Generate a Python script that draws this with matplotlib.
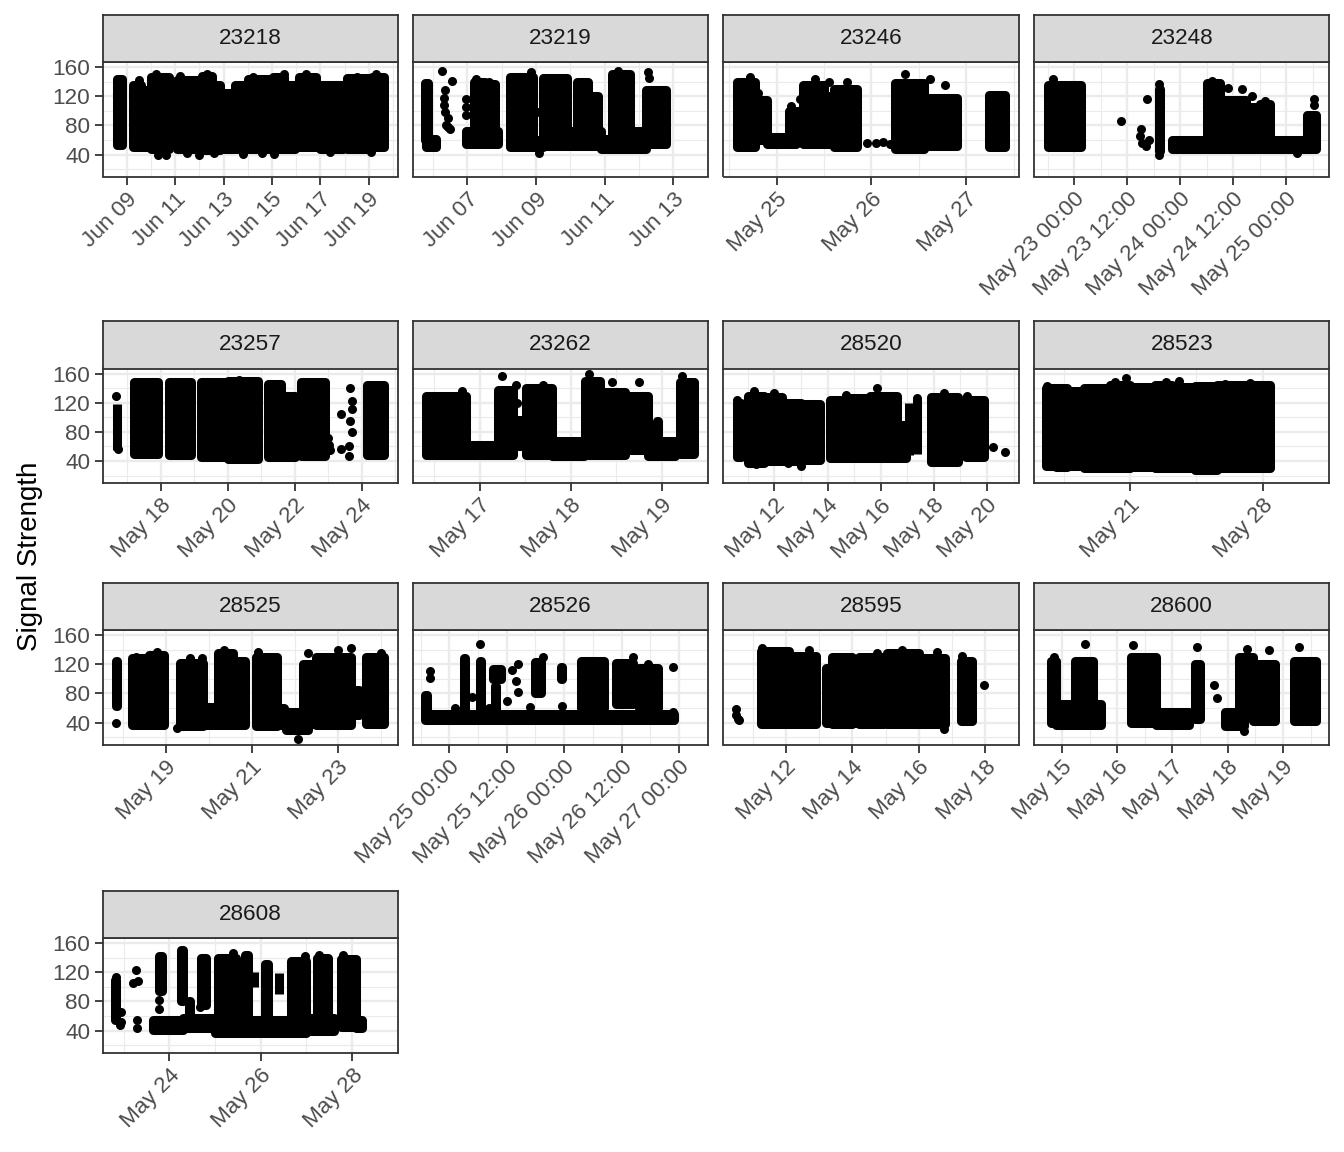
import numpy as np
import matplotlib
matplotlib.use('Agg')
import matplotlib.pyplot as plt
import matplotlib.dates as mdates

plt.rcParams['font.family'] = ['Liberation Sans', 'DejaVu Sans']

# dense bursts of detections: (start day, end day, low signal, high signal)
# day = day of month with fraction; separate lone detections: (day, signal)
blocks_23218 = [(8.58, 8.8, 53, 144), (9.26, 9.6, 50, 136), (9.6, 10.0, 50, 128),
                (10.0, 10.75, 47, 146), (11.08, 12.0, 47, 143), (12.1, 12.5, 46, 148),
                (12.5, 12.85, 46, 136), (12.85, 13.4, 47, 124), (13.45, 14.0, 47, 135),
                (14.0, 14.9, 47, 144), (15.05, 15.5, 47, 147), (15.5, 15.95, 47, 135),
                (16.1, 16.8, 50, 147), (17.0, 17.95, 47, 136), (18.1, 19.0, 47, 145),
                (19.12, 19.64, 50, 147)]
dots_23218 = [(10.3, 40), (10.6, 39), (11.5, 42), (12.0, 40), (12.6, 42), (13.8, 41),
              (14.6, 42), (15.1, 41), (17.4, 43), (19.1, 44), (9.5, 142), (10.2, 150),
              (11.2, 148), (12.3, 151), (14.2, 147), (15.5, 150), (16.4, 151), (18.5, 146),
              (19.3, 150), (12.9, 100), (17.0, 100)]
ticks_23218 = [9, 11, 13, 15, 17, 19]

blocks_23219 = [(5.76, 5.86, 60, 138), (5.8, 6.1, 50, 62), (6.95, 7.9, 55, 72),
                (7.2, 7.5, 72, 140), (7.55, 7.8, 72, 137), (8.25, 8.9, 50, 146),
                (8.9, 9.2, 50, 60), (9.2, 9.9, 52, 145), (9.9, 10.9, 52, 72),
                (10.2, 10.5, 72, 139), (10.65, 10.8, 72, 120), (10.9, 11.2, 47, 62),
                (11.2, 11.75, 47, 150), (11.75, 12.2, 47, 72), (12.2, 12.8, 55, 128)]
dots_23219 = [(6.27, 155), (6.56, 141), (6.35, 128), (6.33, 118), (6.33, 108), (6.35, 98),
              (6.45, 90), (6.45, 78), (6.5, 75), (6.38, 80), (6.96, 116), (6.96, 105),
              (6.96, 95), (7.26, 144), (7.62, 139), (8.85, 153), (9.1, 98), (9.1, 42),
              (11.4, 155), (12.25, 153), (12.3, 145)]
ticks_23219 = [7, 9, 11, 13]

blocks_23246 = [(24.58, 24.77, 50, 140), (24.77, 24.9, 60, 115), (24.9, 25.2, 54, 64),
                (25.13, 25.28, 60, 100), (25.28, 25.5, 54, 135), (25.5, 25.6, 54, 120),
                (25.6, 25.85, 50, 130), (26.25, 26.55, 48, 138), (26.55, 26.9, 52, 118),
                (27.24, 27.41, 50, 122)]
dots_23246 = [(24.72, 146), (24.8, 125), (25.15, 107), (25.25, 116), (25.4, 144),
              (25.55, 139), (25.74, 139), (25.95, 56), (26.05, 56), (26.12, 57),
              (26.2, 55), (26.35, 151), (26.62, 144), (26.78, 135)]
ticks_23246 = [25, 26, 27]

blocks_23248 = [(22.75, 22.93, 50, 135), (22.95, 23.06, 50, 136), (23.8, 23.81, 45, 130),
                (23.92, 25.28, 47, 60), (24.25, 24.38, 60, 138), (24.38, 24.62, 62, 115),
                (24.62, 24.75, 62, 105), (24.75, 24.85, 62, 110), (25.2, 25.28, 60, 95)]
dots_23248 = [(22.8, 144), (23.44, 86), (23.63, 75), (23.62, 65), (23.64, 56), (23.68, 52),
              (23.69, 116), (23.71, 60), (23.8, 39), (23.8, 137), (24.3, 141), (24.45, 132),
              (24.58, 130), (24.68, 120), (24.8, 113), (25.26, 116), (25.26, 108), (25.1, 42)]
ticks_23248 = [23, 23.5, 24, 24.5, 25]

blocks_23257 = [(16.68, 16.69, 55, 118), (17.2, 17.9, 50, 148), (18.25, 18.9, 48, 148),
                (19.2, 20.0, 45, 148), (20.0, 20.9, 43, 150), (21.2, 21.6, 46, 146),
                (21.6, 22.0, 46, 130), (22.2, 22.9, 47, 148), (24.17, 24.68, 48, 144)]
dots_23257 = [(16.66, 130), (16.72, 57), (20.35, 152), (23.0, 72), (23.02, 62), (23.05, 55),
              (23.38, 105), (23.65, 140), (23.7, 122), (23.72, 112), (23.65, 95), (23.7, 80),
              (23.62, 60), (23.62, 47), (23.38, 56)]
ticks_23257 = [18, 20, 22, 24]

blocks_23262 = [(16.41, 16.85, 48, 129), (16.85, 17.2, 48, 62), (17.2, 17.37, 48, 138),
                (17.37, 17.5, 60, 96), (17.51, 17.8, 48, 140), (17.8, 18.15, 47, 68),
                (18.16, 18.32, 48, 150), (18.32, 18.6, 48, 135), (18.6, 18.85, 55, 130),
                (18.85, 19.15, 47, 68), (18.95, 18.96, 68, 95), (19.2, 19.36, 50, 148)]
dots_23262 = [(16.8, 136), (17.25, 157), (17.4, 145), (17.41, 120), (17.7, 145), (18.2, 160),
              (18.45, 148), (18.75, 148), (19.22, 157), (19.35, 148)]
ticks_23262 = [17, 18, 19]

blocks_28520 = [(10.59, 10.75, 46, 120), (11.0, 11.6, 38, 130), (11.6, 12.3, 40, 128),
                (12.3, 13.0, 40, 120), (13.0, 13.7, 42, 118), (14.1, 14.8, 44, 124),
                (14.8, 15.6, 44, 126), (15.6, 16.6, 44, 130), (16.7, 16.95, 44, 90),
                (17.05, 17.06, 48, 120), (17.35, 17.36, 50, 125), (17.9, 18.9, 39, 128),
                (19.2, 19.9, 46, 124)]
dots_28520 = [(10.6, 124), (11.25, 136), (12.0, 134), (14.7, 131), (15.85, 140), (17.35, 127),
              (18.4, 134), (19.25, 129), (20.24, 59), (20.68, 53), (11.3, 36), (13.0, 33),
              (12.5, 38)]
ticks_28520 = [12, 14, 16, 18, 20]

blocks_28523 = [(16.55, 17.0, 33, 140), (17.1, 17.7, 32, 140), (17.8, 18.5, 33, 136),
                (18.6, 19.9, 30, 140), (19.95, 21.0, 30, 145), (21.05, 22.3, 32, 142),
                (22.3, 23.2, 30, 145), (23.2, 24.4, 30, 142), (24.4, 25.6, 28, 143),
                (25.6, 28.4, 30, 145)]
dots_28523 = [(16.65, 143), (20.2, 148), (20.8, 154), (22.9, 148), (23.6, 150), (26.0, 146),
              (27.3, 147)]
ticks_28523 = [21, 28]

blocks_28525 = [(17.84, 17.85, 63, 125), (18.2, 18.6, 36, 128), (18.6, 18.95, 36, 133),
                (19.33, 19.87, 35, 122), (19.87, 20.2, 36, 62), (20.2, 20.57, 36, 135),
                (20.57, 20.85, 36, 125), (21.1, 21.58, 35, 130), (21.6, 21.75, 36, 60),
                (21.8, 22.3, 30, 55), (22.2, 22.5, 38, 120), (22.5, 23.3, 36, 130),
                (23.35, 23.5, 50, 85), (23.65, 24.08, 38, 130)]
dots_28525 = [(17.84, 40), (18.3, 130), (18.8, 137), (19.25, 33), (19.55, 128), (19.85, 128),
              (20.35, 139), (21.15, 137), (22.08, 17), (22.3, 135), (23.0, 139), (23.3, 142),
              (24.0, 135)]
ticks_28525 = [19, 21, 23]

blocks_28526 = [(24.79, 26.96, 44, 52), (24.79, 24.81, 52, 78), (25.13, 25.14, 52, 128),
                (25.27, 25.28, 52, 125), (25.38, 25.45, 100, 114), (25.4, 25.41, 52, 90),
                (25.75, 25.8, 80, 123), (25.97, 25.98, 100, 116), (26.15, 26.35, 60, 125),
                (26.45, 26.6, 65, 122), (26.65, 26.82, 60, 115)]
dots_28526 = [(24.83, 111), (24.83, 101), (25.27, 148), (25.55, 112), (25.58, 97), (25.6, 82),
              (25.6, 121), (25.82, 130), (25.98, 63), (26.22, 125), (26.6, 130), (26.73, 121),
              (26.95, 116), (26.95, 54), (26.95, 44), (25.05, 60), (25.2, 75), (25.35, 60),
              (25.5, 70), (25.7, 62)]
ticks_28526 = [25, 25.5, 26, 26.5, 27]

blocks_28595 = [(11.25, 12.1, 38, 138), (12.1, 12.9, 38, 132), (13.2, 13.4, 40, 115),
                (13.4, 14.0, 38, 130), (14.0, 14.2, 40, 75), (14.2, 14.95, 38, 130),
                (15.05, 16.0, 38, 135), (16.0, 16.8, 38, 128), (17.27, 17.6, 42, 125)]
dots_28595 = [(10.5, 58), (10.5, 50), (10.55, 45), (10.6, 43), (11.3, 142), (12.7, 139),
              (14.1, 120), (14.1, 100), (14.75, 135), (15.5, 139), (16.55, 137), (16.75, 31),
              (17.3, 132), (17.95, 92)]
ticks_28595 = [12, 14, 16, 18]

blocks_28600 = [(14.8, 14.9, 40, 125), (14.9, 15.7, 36, 65), (15.24, 15.57, 65, 125),
                (16.25, 16.7, 40, 130), (16.7, 17.3, 37, 55), (17.4, 17.5, 45, 120),
                (17.95, 18.3, 35, 55), (18.2, 18.45, 50, 130), (18.45, 18.85, 42, 120),
                (19.2, 19.6, 42, 125)]
dots_28600 = [(14.85, 130), (15.42, 148), (16.28, 146), (17.45, 144), (17.76, 92), (17.8, 74),
              (18.3, 29), (18.35, 141), (18.75, 139), (19.3, 144)]
ticks_28600 = [15, 16, 17, 18, 19]

blocks_28608 = [(22.81, 22.83, 55, 110), (23.65, 24.3, 41, 55), (23.78, 23.84, 95, 142),
                (24.25, 24.3, 80, 151), (24.44, 24.45, 57, 80), (24.3, 24.95, 43, 57),
                (24.7, 24.8, 75, 139), (25.0, 27.0, 36, 55), (25.06, 25.46, 55, 140),
                (25.65, 25.72, 55, 144), (25.85, 25.86, 100, 121), (26.1, 26.15, 55, 132),
                (26.4, 26.41, 90, 119), (26.67, 27.0, 55, 135), (27.0, 27.6, 40, 57),
                (27.24, 27.48, 60, 139), (27.75, 28.08, 45, 138), (28.08, 28.21, 44, 55)]
dots_28608 = [(22.83, 114), (22.95, 65), (22.95, 52), (22.92, 48), (23.2, 105), (23.27, 123),
              (23.32, 108), (23.3, 55), (23.3, 43), (23.78, 82), (23.77, 70), (24.66, 73),
              (25.4, 146), (26.98, 142), (27.28, 144), (27.8, 144)]
ticks_28608 = [24, 26, 28]

# tag, month, blocks, dots, ticks, label format
panels = [
    ('23218', 6, blocks_23218, dots_23218, ticks_23218, '%b %d'),
    ('23219', 6, blocks_23219, dots_23219, ticks_23219, '%b %d'),
    ('23246', 5, blocks_23246, dots_23246, ticks_23246, '%b %d'),
    ('23248', 5, blocks_23248, dots_23248, ticks_23248, '%b %d %H:%M'),
    ('23257', 5, blocks_23257, dots_23257, ticks_23257, '%b %d'),
    ('23262', 5, blocks_23262, dots_23262, ticks_23262, '%b %d'),
    ('28520', 5, blocks_28520, dots_28520, ticks_28520, '%b %d'),
    ('28523', 5, blocks_28523, dots_28523, ticks_28523, '%b %d'),
    ('28525', 5, blocks_28525, dots_28525, ticks_28525, '%b %d'),
    ('28526', 5, blocks_28526, dots_28526, ticks_28526, '%b %d %H:%M'),
    ('28595', 5, blocks_28595, dots_28595, ticks_28595, '%b %d'),
    ('28600', 5, blocks_28600, dots_28600, ticks_28600, '%b %d'),
    ('28608', 5, blocks_28608, dots_28608, ticks_28608, '%b %d'),
]

def to_num(month, d):
    base = mdates.date2num(np.datetime64(f'2021-{month:02d}-01'))
    return base + np.asarray(d, dtype=float) - 1

W, H = 1344, 1152
fig = plt.figure(figsize=(W/100, H/100), dpi=100)
col_x = [102.7, 412.7, 723.5, 1034.3]
row_top = [62, 368.5, 630, 938]
pw, ph, sh = 295, 114.5, 47
dot_lw = 6.5  # pt, matches point diameter
fs = 16.2

# shared y scale with ggplot-like 5% expansion
ys = [v for p in panels for b in p[2] for v in b[2:]] + [d[1] for p in panels for d in p[3]]
y0, y1 = min(ys), max(ys)
ypad = (y1 - y0)*0.05

for i, (tag, month, blocks, dots, ticks, fmt) in enumerate(panels):
    r, c = divmod(i, 4)
    x, top = col_x[c], row_top[r]
    ax = fig.add_axes([x/W, 1-(top+ph)/H, pw/W, ph/H])
    st = fig.add_axes([x/W, 1-top/H, pw/W, sh/H])
    st.set_facecolor('#D9D9D9')
    st.set_xticks([]); st.set_yticks([])
    for s in st.spines.values():
        s.set_color('#333333'); s.set_linewidth(1.3)
    st.text(0.5, 0.5, tag, ha='center', va='center', fontsize=fs, color='#1A1A1A',
            transform=st.transAxes)

    b = np.array(blocks, dtype=float)
    d = np.array(dots, dtype=float)
    x0 = to_num(month, b[:, 0])
    bars = ax.bar(x0, b[:, 3]-b[:, 2], width=b[:, 1]-b[:, 0], bottom=b[:, 2], align='edge',
                  color='black', edgecolor='black', linewidth=dot_lw, zorder=3)
    for p in bars:
        p.set_joinstyle('round')
    ax.scatter(to_num(month, d[:, 0]), d[:, 1], s=dot_lw**2, c='black', linewidths=0, zorder=3)

    lo = min(b[:, 0].min(), d[:, 0].min())
    hi = max(b[:, 1].max(), d[:, 0].max())
    pad = (hi - lo)*0.05
    ax.set_xlim(to_num(month, lo-pad), to_num(month, hi+pad))
    ax.set_ylim(y0-ypad, y1+ypad)

    tk = np.array(ticks, dtype=float)
    step = tk[1]-tk[0]
    minor = np.arange(tk[0]-step/2, tk[-1]+step, step)
    ax.set_xticks(to_num(month, tk))
    ax.set_xticks(to_num(month, minor), minor=True)
    ax.set_xticklabels([mdates.num2date(t).strftime(fmt) for t in to_num(month, tk)],
                       rotation=45, ha='right', rotation_mode='anchor')
    ax.set_yticks([40, 80, 120, 160])
    ax.set_yticks([20, 60, 100, 140], minor=True)
    ax.set_axisbelow(True)
    ax.grid(which='major', color='#EBEBEB', linewidth=1.7, zorder=0)
    ax.grid(which='minor', color='#EBEBEB', linewidth=0.85, zorder=0)
    ax.tick_params(which='major', length=5.8, width=1.3, color='#333333', labelsize=fs,
                   labelcolor='#4D4D4D', pad=3)
    ax.tick_params(which='minor', length=0)
    if c != 0:
        ax.tick_params(axis='y', left=False, labelleft=False)
    for s in ax.spines.values():
        s.set_color('#333333'); s.set_linewidth(1.3); s.set_zorder(4)

fig.text(30/W, 1-556/H, 'Signal Strength', rotation=90, ha='center', va='center',
         fontsize=20, color='black')

fig.savefig('out.png', dpi=100)
